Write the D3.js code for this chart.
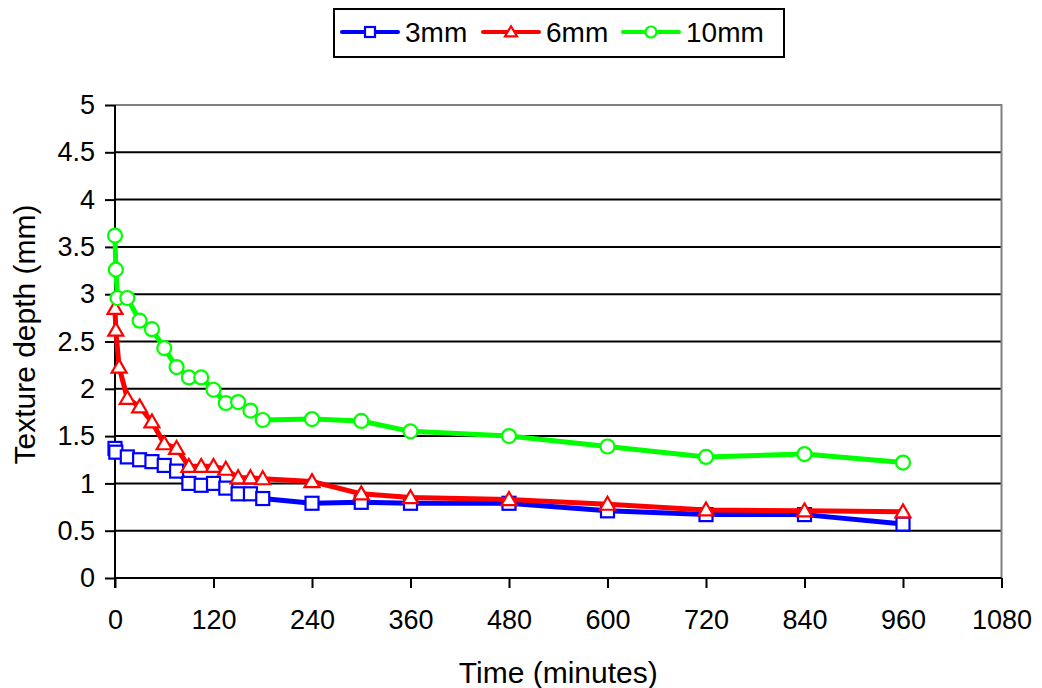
<!DOCTYPE html>
<html>
<head>
<meta charset="utf-8">
<script src="https://cdn.jsdelivr.net/npm/d3@7"></script>
<style>
  body { margin: 0; background: #fff; }
  text { font-family: "Liberation Sans", Arial, sans-serif; fill: #000; }
</style>
</head>
<body>
<svg id="chart" width="1042" height="688"></svg>
<script>
// ---- data ----
const seriesNames = ["3mm", "6mm", "10mm"];
const seriesColors = ["#0000FF", "#FF0000", "#00FF00"];
const seriesMarkers = ["square", "triangle", "circle"];

const time3mm = [0, 1, 15, 30, 45, 60, 75, 90, 105, 120, 135, 150, 165, 180, 240, 300, 360, 480, 600, 720, 840, 960];
const depth3mm = [1.37, 1.33, 1.28, 1.25, 1.23, 1.19, 1.13, 1.00, 0.98, 1.00, 0.95, 0.89, 0.89, 0.84, 0.79, 0.80, 0.79, 0.79, 0.71, 0.67, 0.67, 0.57];

const time6mm = [0, 1, 5, 15, 30, 45, 60, 75, 90, 105, 120, 135, 150, 165, 180, 240, 300, 360, 480, 600, 720, 840, 960];
const depth6mm = [2.85, 2.62, 2.23, 1.90, 1.81, 1.65, 1.42, 1.37, 1.18, 1.18, 1.18, 1.15, 1.06, 1.06, 1.05, 1.02, 0.89, 0.85, 0.83, 0.78, 0.72, 0.71, 0.70];

const time10mm = [0, 1, 3, 15, 30, 45, 60, 75, 90, 105, 120, 135, 150, 165, 180, 240, 300, 360, 480, 600, 720, 840, 960];
const depth10mm = [3.62, 3.26, 2.96, 2.96, 2.72, 2.63, 2.43, 2.23, 2.12, 2.12, 1.99, 1.85, 1.86, 1.77, 1.67, 1.68, 1.66, 1.55, 1.50, 1.39, 1.28, 1.31, 1.22];

const xTicks = [0, 120, 240, 360, 480, 600, 720, 840, 960, 1080];
const yTicks = [0, 0.5, 1, 1.5, 2, 2.5, 3, 3.5, 4, 4.5, 5];
const xTitle = "Time (minutes)";
const yTitle = "Texture depth (mm)";

const series = [
  { name: seriesNames[0], color: seriesColors[0], marker: seriesMarkers[0], pts: time3mm.map((t, i) => [t, depth3mm[i]]) },
  { name: seriesNames[1], color: seriesColors[1], marker: seriesMarkers[1], pts: time6mm.map((t, i) => [t, depth6mm[i]]) },
  { name: seriesNames[2], color: seriesColors[2], marker: seriesMarkers[2], pts: time10mm.map((t, i) => [t, depth10mm[i]]) }
];

// ---- layout ----
const svg = d3.select("#chart");
const L = 115, R = 1001.5, T = 105, B = 578;
const x = d3.scaleLinear().domain([0, 1080]).range([L, R]);
const y = d3.scaleLinear().domain([0, 5]).range([B, T]);
const FS = 27;

// gridlines
svg.append("g").selectAll("line").data(yTicks.filter(v => v > 0 && v < 5)).join("line")
  .attr("x1", L).attr("x2", R).attr("y1", d => y(d)).attr("y2", d => y(d))
  .attr("stroke", "#000").attr("stroke-width", 2);

// top and right border (gray)
svg.append("path")
  .attr("d", `M${L},${y(5)}H${R}V${B}`)
  .attr("fill", "none").attr("stroke", "#808080").attr("stroke-width", 2);

// axes
const xAxis = d3.axisBottom(x).tickValues(xTicks).tickSize(10).tickPadding(22).tickFormat(d3.format("d"));
const gx = svg.append("g").attr("transform", `translate(0,${B})`).call(xAxis);
gx.select(".domain").attr("stroke", "#000").attr("stroke-width", 2).attr("d", `M${L},0H${R}`);
gx.selectAll(".tick line").attr("stroke", "#000").attr("stroke-width", 2);
gx.selectAll(".tick text").attr("font-size", FS).attr("font-family", "Liberation Sans, Arial, sans-serif").attr("fill", "#000");

const yAxis = d3.axisLeft(y).tickValues(yTicks).tickSize(10).tickPadding(10).tickFormat(d => String(d));
const gy = svg.append("g").attr("transform", `translate(${L},0)`).call(yAxis);
gy.select(".domain").attr("stroke", "#000").attr("stroke-width", 2).attr("d", `M0,${T}V${B + 10}`);
gy.selectAll(".tick line").attr("stroke", "#000").attr("stroke-width", 2);
gy.selectAll(".tick text").attr("font-size", FS).attr("font-family", "Liberation Sans, Arial, sans-serif").attr("fill", "#000");

// titles
svg.append("text").attr("x", (L + R) / 2).attr("y", 683).attr("text-anchor", "middle")
  .attr("font-size", 30).text(xTitle);
svg.append("text").attr("transform", `translate(35,${(T + B) / 2 - 7}) rotate(-90)`).attr("text-anchor", "middle")
  .attr("font-size", 30).text(yTitle);

// marker drawing
function drawMarker(g, type, cx, cy, size, color) {
  if (type === "square") {
    g.append("rect").attr("x", cx - size / 2).attr("y", cy - size / 2).attr("width", size).attr("height", size)
      .attr("fill", "#fff").attr("stroke", color).attr("stroke-width", 2.2);
  } else if (type === "triangle") {
    const h = size * 0.95;
    g.append("path").attr("d", `M${cx},${cy - h * 0.6}L${cx + size / 2 + 1},${cy + h * 0.45}L${cx - size / 2 - 1},${cy + h * 0.45}Z`)
      .attr("fill", "#fff").attr("stroke", color).attr("stroke-width", 2.2);
  } else {
    g.append("circle").attr("cx", cx).attr("cy", cy).attr("r", size / 2)
      .attr("fill", "#fff").attr("stroke", color).attr("stroke-width", 2.2);
  }
}

const line = d3.line().x(d => x(d[0])).y(d => y(d[1]));
series.forEach(s => {
  const g = svg.append("g");
  g.append("path").datum(s.pts).attr("d", line).attr("fill", "none")
    .attr("stroke", s.color).attr("stroke-width", 5).attr("stroke-linejoin", "round");
  s.pts.forEach(p => drawMarker(g, s.marker, x(p[0]), y(p[1]), s.marker === "circle" ? 14 : 13, s.color));
});

// legend
const lg = svg.append("g");
lg.append("rect").attr("x", 334).attr("y", 9).attr("width", 450).attr("height", 48)
  .attr("fill", "#fff").attr("stroke", "#000").attr("stroke-width", 2);
const legX = [342, 483, 623];
series.forEach((s, i) => {
  const x0 = legX[i];
  lg.append("line").attr("x1", x0).attr("x2", x0 + 56).attr("y1", 32).attr("y2", 32)
    .attr("stroke", s.color).attr("stroke-width", 4).attr("stroke-linecap", "round");
  drawMarker(lg, s.marker, x0 + 28, 32, s.marker === "circle" ? 11 : 10, s.color);
  lg.append("text").attr("x", x0 + 63).attr("y", 42).attr("font-size", 28).text(s.name);
});
</script>
</body>
</html>
